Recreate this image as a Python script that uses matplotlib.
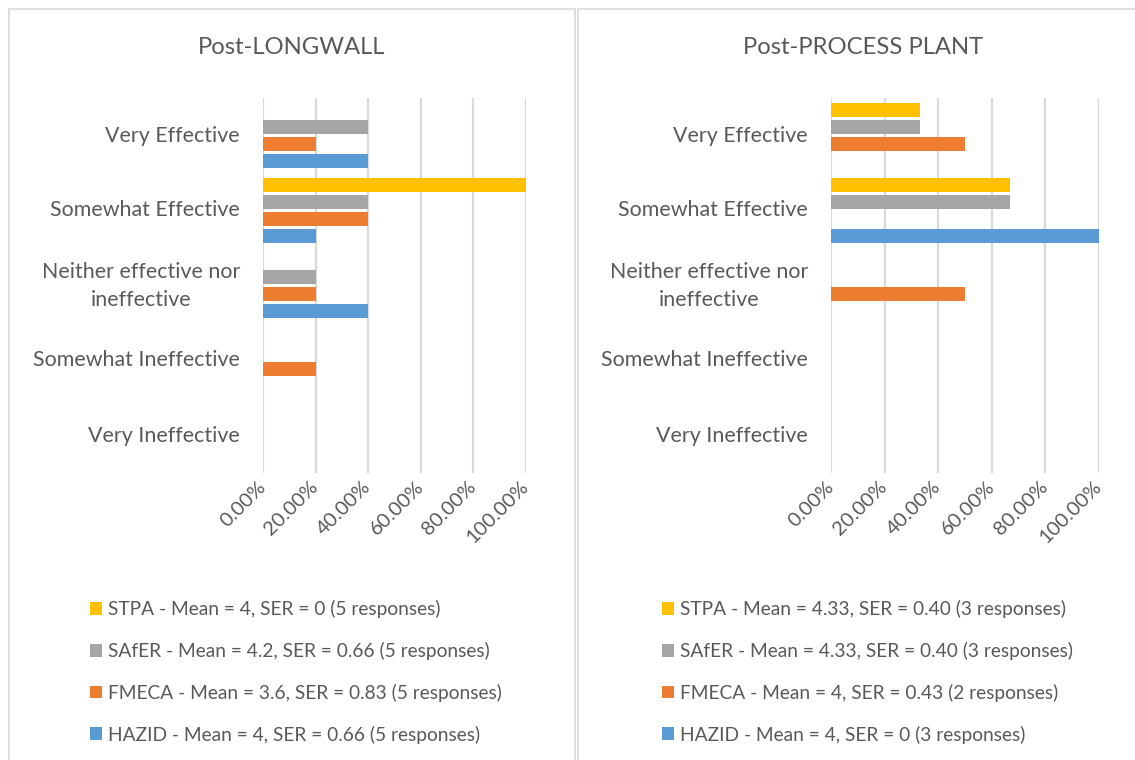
import matplotlib
matplotlib.use("Agg")
import matplotlib.pyplot as plt
from matplotlib.patches import Rectangle
from matplotlib.ticker import FuncFormatter
import numpy as np

plt.rcParams['font.family'] = ['Lato', 'DejaVu Sans']

categories = ["Very Effective", "Somewhat Effective", "Neither effective nor\nineffective",
              "Somewhat Ineffective", "Very Ineffective"]
series = ["HAZID", "FMECA", "SAfER", "STPA"]
colors = {"HAZID": "#5B9BD5", "FMECA": "#ED7D31", "SAfER": "#A5A5A5", "STPA": "#FFC000"}

# values in % per category (top to bottom order)
longwall = {
    "STPA":  [0, 100, 0, 0, 0],
    "SAfER": [40, 40, 20, 0, 0],
    "FMECA": [20, 40, 20, 20, 0],
    "HAZID": [40, 20, 40, 0, 0],
}
plant = {
    "STPA":  [33.33, 66.67, 0, 0, 0],
    "SAfER": [33.33, 66.67, 0, 0, 0],
    "FMECA": [50, 0, 50, 0, 0],
    "HAZID": [0, 100, 0, 0, 0],
}
longwall_labels = {
    "STPA": "STPA - Mean = 4, SER = 0 (5 responses)",
    "SAfER": "SAfER - Mean = 4.2, SER = 0.66 (5 responses)",
    "FMECA": "FMECA - Mean = 3.6, SER = 0.83 (5 responses)",
    "HAZID": "HAZID - Mean = 4, SER = 0.66 (5 responses)",
}
plant_labels = {
    "STPA": "STPA - Mean = 4.33, SER = 0.40 (3 responses)",
    "SAfER": "SAfER - Mean = 4.33, SER = 0.40 (3 responses)",
    "FMECA": "FMECA - Mean = 4, SER = 0.43 (2 responses)",
    "HAZID": "HAZID - Mean = 4, SER = 0 (3 responses)",
}
xticks = [0, 20, 40, 60, 80, 100]

W, H = 1135, 760
fig = plt.figure(figsize=(W / 100, H / 100), dpi=100)
TXT = "#595959"
GRID = "#D9D9D9"

def fx(px):
    return px / W

def fy(py):
    return 1 - py / H

# panel borders
for (x0, x1) in [(9, 575), (578, 1136)]:
    fig.patches.append(Rectangle((fx(x0), fy(770)), fx(x1 - x0), (770 - 9) / H,
                                 transform=fig.transFigure, fill=False,
                                 edgecolor=GRID, linewidth=1.2))

def panel(data, labels, title, ax_x0, ax_x1, title_x, leg_x):
    ax = fig.add_axes([fx(ax_x0), fy(473), fx(ax_x1 - ax_x0), 375 / H])
    ypos = np.arange(len(categories))[::-1].astype(float)
    pitch = 0.227
    h = 0.18
    handles = {}
    for i, s in enumerate(series):
        off = (i - 1.5) * pitch
        b = ax.barh(ypos + off, data[s], height=h, color=colors[s], zorder=3)
        handles[s] = b
    ax.set_xlim(0, 100)
    ax.set_ylim(-0.5, 4.5)
    ax.set_xticks(xticks)
    ax.xaxis.set_major_formatter(FuncFormatter(lambda v, p: f"{v:.2f}%"))
    ax.grid(axis='x', color=GRID, linewidth=1.6, zorder=0)
    ax.set_yticks(ypos)
    ax.set_yticklabels([])
    ax.tick_params(axis='y', length=0, pad=0)
    ax.tick_params(axis='x', length=0, pad=8, labelsize=14.5, labelcolor=TXT)
    for lbl in ax.get_xticklabels():
        lbl.set_rotation(45)
        lbl.set_ha('right')
        lbl.set_va('center')
        lbl.set_rotation_mode('anchor')
    for sp in ax.spines.values():
        sp.set_visible(False)
    for y, c in zip(ypos, categories):
        ax.text(-23 * 100 / (ax_x1 - ax_x0), y, c, ha='right', va='center',
                multialignment='center', linespacing=1.5,
                fontsize=15.4, color=TXT)
    fig.text(fx(title_x), fy(48), title, ha='center', va='center', fontsize=17.2, color=TXT)
    order = ["STPA", "SAfER", "FMECA", "HAZID"]
    fig.legend([handles[s] for s in order], [labels[s] for s in order],
               loc='upper left', bbox_to_anchor=(fx(leg_x), fy(600)),
               frameon=False, fontsize=13.8, labelcolor=TXT,
               handlelength=0.65, handleheight=0.65, handletextpad=0.28,
               labelspacing=1.24, borderpad=0, borderaxespad=0)
    return ax

panel(longwall, longwall_labels, "Post-LONGWALL", 263, 526, 292, 90)
panel(plant, plant_labels, "Post-PROCESS PLANT", 831, 1099, 863, 662)

fig.savefig("out.png", dpi=100)
